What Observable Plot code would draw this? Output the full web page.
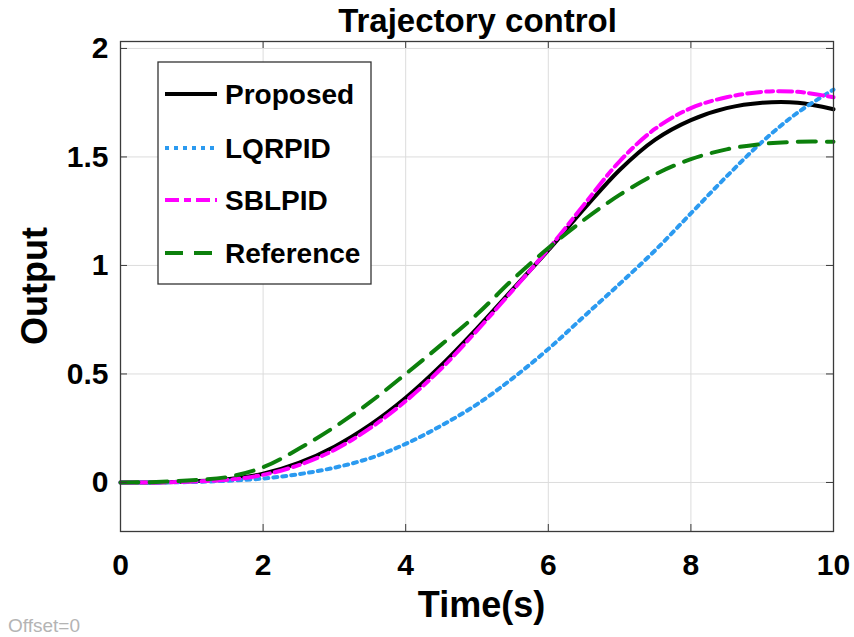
<!DOCTYPE html>
<html>
<head>
<meta charset="utf-8">
<script src="https://cdn.jsdelivr.net/npm/d3@7"></script>
<script src="https://cdn.jsdelivr.net/npm/@observablehq/plot@0.6"></script>
<style>
  body { margin: 0; background: #fff; }
  #wrap { position: relative; width: 854px; height: 637px; font-family: "Liberation Sans", Arial, sans-serif; }
  #wrap > * { position: absolute; }
</style>
</head>
<body>
<div id="wrap"></div>
<script>
// ---- data ----
const time = [0, 0.5, 1, 1.5, 2, 2.5, 3, 3.5, 4, 4.5, 5, 5.5, 6, 6.5, 7, 7.5, 8, 8.5, 9, 9.5, 10];
const proposed  = [0, 0.0, 0.005, 0.015, 0.04, 0.09, 0.165, 0.265, 0.39, 0.54, 0.71, 0.89, 1.07, 1.26, 1.44, 1.58, 1.67, 1.725, 1.75, 1.75, 1.72];
const lqrpid    = [0, 0.0, 0.002, 0.008, 0.018, 0.038, 0.068, 0.112, 0.178, 0.262, 0.36, 0.48, 0.615, 0.765, 0.915, 1.07, 1.24, 1.41, 1.57, 1.705, 1.81];
const sblpid    = [0, 0.0, 0.004, 0.012, 0.035, 0.08, 0.15, 0.25, 0.375, 0.525, 0.70, 0.885, 1.075, 1.28, 1.48, 1.63, 1.725, 1.775, 1.80, 1.80, 1.775];
const reference = [0, 0.002, 0.01, 0.025, 0.07, 0.155, 0.255, 0.37, 0.50, 0.635, 0.775, 0.935, 1.08, 1.21, 1.325, 1.42, 1.49, 1.535, 1.56, 1.57, 1.57];
const seriesNames = ["Proposed", "LQRPID", "SBLPID", "Reference"];
const xTicks = [0, 2, 4, 6, 8, 10];
const yTicks = [0, 0.5, 1, 1.5, 2];

const styles = {
  Proposed:  {stroke: "#000000", dash: null},
  LQRPID:    {stroke: "#2b9af0", dash: "4,5"},
  SBLPID:    {stroke: "#ff00ff", dash: "14,5,7,5"},
  Reference: {stroke: "#0c800c", dash: "18,11"}
};
const values = {Proposed: proposed, LQRPID: lqrpid, SBLPID: sblpid, Reference: reference};
const rows = seriesNames.flatMap(s => time.map((t, i) => ({s, t, v: values[s][i]})));

const W = 854, H = 637, mL = 120, mR = 21, mT = 41, mB = 106;
const fw = W - mL - mR, fh = H - mT - mB;

const lineMarks = seriesNames.map(s => Plot.line(rows.filter(d => d.s === s), {
  x: "t", y: "v", curve: "catmull-rom",
  stroke: styles[s].stroke, strokeWidth: 4,
  strokeDasharray: styles[s].dash ?? undefined
}));

const plot = Plot.plot({
  width: W, height: H,
  marginLeft: mL, marginRight: mR, marginTop: mT, marginBottom: mB,
  style: {fontFamily: "Liberation Sans, Arial, sans-serif", background: "transparent"},
  x: {domain: [0, 10]},
  y: {domain: [-0.226, 2.032]},
  marks: [
    Plot.gridX(xTicks.slice(1, -1), {stroke: "#dcdcdc", strokeOpacity: 1, strokeWidth: 1}),
    Plot.gridY(yTicks, {stroke: "#dcdcdc", strokeOpacity: 1, strokeWidth: 1}),
    ...lineMarks,
    Plot.frame({stroke: "#3a3a3a", strokeWidth: 1.3}),
    Plot.tickX(xTicks.slice(1, -1), {x: d => d, stroke: "#3a3a3a", insetTop: fh - 7}),
    Plot.tickX(xTicks.slice(1, -1), {x: d => d, stroke: "#3a3a3a", insetBottom: fh - 7}),
    Plot.tickY(yTicks, {y: d => d, stroke: "#3a3a3a", insetRight: fw - 7}),
    Plot.tickY(yTicks, {y: d => d, stroke: "#3a3a3a", insetLeft: fw - 7}),
    Plot.axisX(xTicks, {tickSize: 0, tickPadding: 22, fontSize: 30, fontWeight: "bold", fill: "#000", label: null, tickFormat: d => String(d)}),
    Plot.axisY(yTicks, {tickSize: 0, tickPadding: 12, fontSize: 30, fontWeight: "bold", fill: "#000", label: null, tickFormat: d => String(d)})
  ]
});

const wrap = document.getElementById("wrap");
plot.style.left = "0px"; plot.style.top = "0px";
wrap.appendChild(plot);

// overlay: titles, labels and legend
const ov = d3.select(wrap).append("svg")
  .attr("width", W).attr("height", H)
  .style("left", "0px").style("top", "0px")
  .style("font-family", "Liberation Sans, Arial, sans-serif");

ov.append("text").attr("x", mL + fw / 2 + 1).attr("y", 32)
  .attr("text-anchor", "middle").attr("font-size", 33).attr("font-weight", "bold")
  .text("Trajectory control");
ov.append("text").attr("x", mL + fw / 2 + 5).attr("y", 617)
  .attr("text-anchor", "middle").attr("font-size", 36).attr("font-weight", "bold")
  .text("Time(s)");
ov.append("text").attr("transform", `translate(47,${mT + fh / 2}) rotate(-90)`)
  .attr("text-anchor", "middle").attr("font-size", 36).attr("font-weight", "bold")
  .text("Output");
ov.append("text").attr("x", 8).attr("y", 632)
  .attr("font-size", 19).attr("fill", "#b4b4b4")
  .text("Offset=0");

const lg = ov.append("g").attr("transform", "translate(158,62)");
lg.append("rect").attr("width", 213).attr("height", 222)
  .attr("fill", "#fff").attr("stroke", "#333").attr("stroke-width", 1.3);
const rowY = [32, 86, 138, 191];
seriesNames.forEach((s, i) => {
  lg.append("line").attr("x1", 7).attr("x2", 59).attr("y1", rowY[i]).attr("y2", rowY[i])
    .attr("stroke", styles[s].stroke).attr("stroke-width", 4)
    .attr("stroke-dasharray", styles[s].dash);
  lg.append("text").attr("x", 67).attr("y", rowY[i] + 10)
    .attr("font-size", 28).attr("font-weight", "bold").text(s);
});
</script>
</body>
</html>
